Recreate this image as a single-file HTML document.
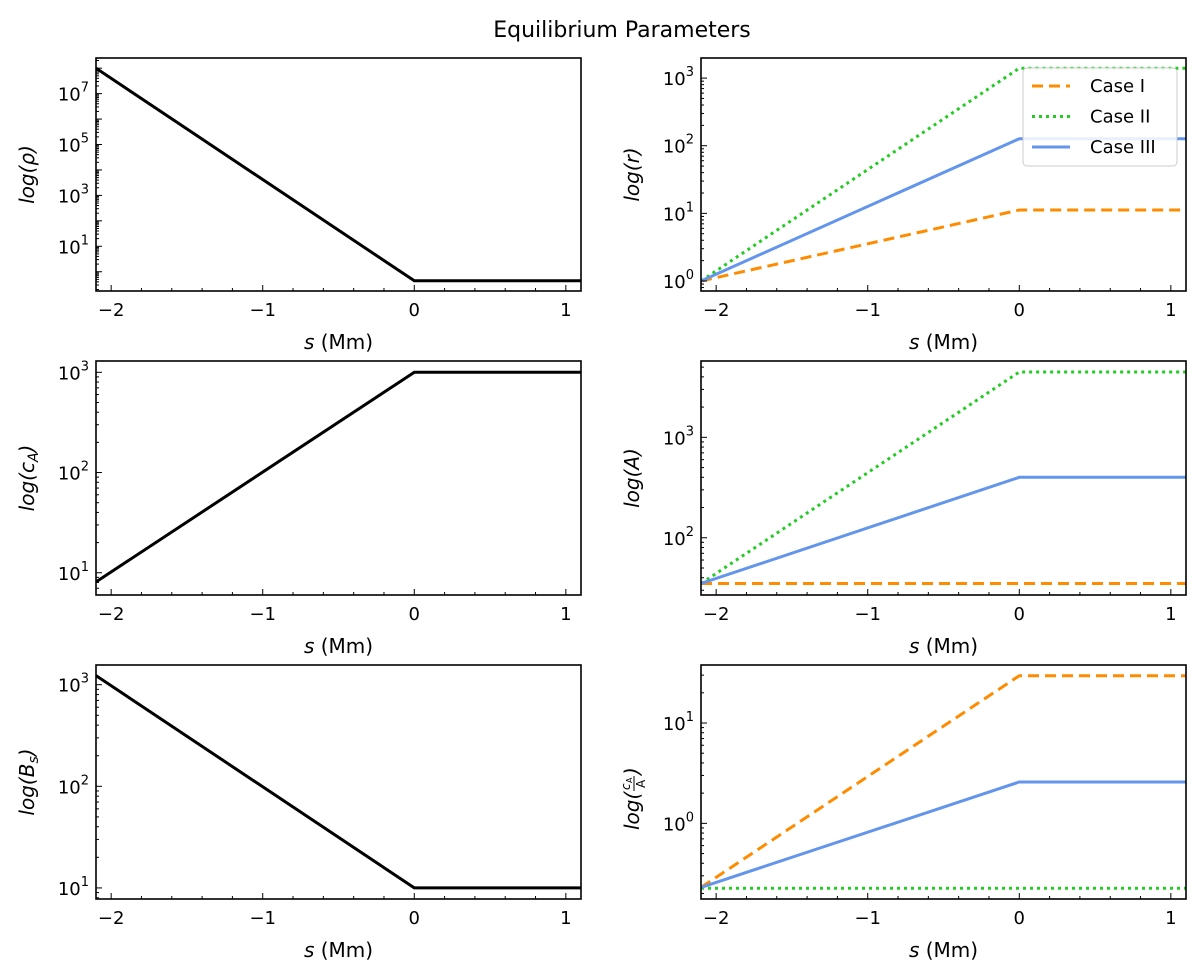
<!DOCTYPE html>
<html><head><meta charset="utf-8">
<style>
html,body{margin:0;padding:0;background:#fff;}
svg{display:block;font-family:"DejaVu Sans","Liberation Sans",sans-serif;}
</style></head>
<body>
<svg id="fig" width="1200" height="971" viewBox="0 0 1200 971">
<text x="622" y="37" font-size="22" text-anchor="middle" fill="#000">Equilibrium Parameters</text>
</svg>
<script>
// ---- data ----
const sKnots = [-2.1, 0, 1.1];
const xTicks = [-2, -1, 0, 1];
const xTickLabels = ["\u22122", "\u22121", "0", "1"];
const rhoValues = [1e8, 0.44, 0.44];
const cAValues = [8.1, 1000, 1000];
const BsValues = [1230, 10, 10];
const rCase1 = [1, 11.2, 11.2];
const rCase2 = [1, 1400, 1400];
const rCase3 = [1, 127, 127];
const ACase1 = [35, 35, 35];
const ACase2 = [35, 4470, 4470];
const ACase3 = [35, 400, 400];
const ratioCase1 = [0.23, 29.6, 29.6];
const ratioCase2 = [0.225, 0.225, 0.225];
const ratioCase3 = [0.23, 2.58, 2.58];
const rhoTicks = [1, 3, 5, 7];
const cATicks = [1, 2, 3];
const BsTicks = [1, 2, 3];
const rTicks = [0, 1, 2, 3];
const ATicks = [2, 3];
const ratioTicks = [0, 1];
const legendLabels = ["Case I", "Case II", "Case III"];

const NS = "http://www.w3.org/2000/svg";
const svg = document.getElementById('fig');
function mk(tag, attrs, parent){const e=document.createElementNS(NS,tag);for(const k in attrs)e.setAttribute(k,attrs[k]);(parent||svg).appendChild(e);return e;}

const styles = {
  black:{stroke:"#000",w:3,dash:null},
  c1:{stroke:"#ff8c00",w:3,dash:"11,6"},
  c2:{stroke:"#22cc22",w:3,dash:"3,4"},
  c3:{stroke:"#6495ed",w:3,dash:null}
};

const panels = [
  {name:"rho",x0:96,x1:581,y0:58,y1:291,lmin:-0.757,lmax:8.40,ticks:rhoTicks,label:"log(\u03c1)",series:[[rhoValues,"black"]],lx:34},
  {name:"r",x0:701,x1:1186,y0:58,y1:291,lmin:-0.148,lmax:3.297,ticks:rTicks,label:"log(r)",series:[[rCase1,"c1"],[rCase2,"c2"],[rCase3,"c3"]],lx:639,legend:true},
  {name:"ca",x0:96,x1:581,y0:361,y1:595,lmin:0.778,lmax:3.113,ticks:cATicks,label:"cA",series:[[cAValues,"black"]],lx:34},
  {name:"area",x0:701,x1:1186,y0:361,y1:595,lmin:1.43,lmax:3.76,ticks:ATicks,label:"log(A)",series:[[ACase1,"c1"],[ACase2,"c2"],[ACase3,"c3"]],lx:639},
  {name:"bs",x0:96,x1:581,y0:665,y1:899,lmin:0.891,lmax:3.194,ticks:BsTicks,label:"Bs",series:[[BsValues,"black"]],lx:34},
  {name:"ratio",x0:701,x1:1186,y0:665,y1:899,lmin:-0.754,lmax:1.578,ticks:ratioTicks,label:"ratio",series:[[ratioCase1,"c1"],[ratioCase2,"c2"],[ratioCase3,"c3"]],lx:639}
];
const XMIN=-2.1, XMAX=1.1;

panels.forEach(p=>{
  const g = mk('g',{});
  
  
  const xs = v => p.x0 + (v-XMIN)/(XMAX-XMIN)*(p.x1-p.x0);
  const ys = v => p.y1 - (Math.log10(v)-p.lmin)/(p.lmax-p.lmin)*(p.y1-p.y0);
  const yl = l => p.y1 - (l-p.lmin)/(p.lmax-p.lmin)*(p.y1-p.y0);
  const clip = mk('clipPath',{id:'clip-'+p.name},g);
  mk('rect',{x:p.x0,y:p.y0,width:p.x1-p.x0,height:p.y1-p.y0},clip);
  p.series.forEach(([vals,st],i)=>{
    const s=styles[st];
    const pts = sKnots.map((k,j)=>xs(k).toFixed(1)+','+ys(vals[j]).toFixed(1)).join(' ');
    const pl = mk('polyline',{points:pts,fill:'none',stroke:s.stroke,'stroke-width':s.w,'clip-path':'url(#clip-'+p.name+')'},g);
    if(s.dash) pl.setAttribute('stroke-dasharray',s.dash);
    
    
  });
  xTicks.forEach((t,i)=>{
    const x=xs(t);
    mk('line',{x1:x,x2:x,y1:p.y1,y2:p.y1-6,stroke:'#000','stroke-width':1},g);
    const tl = mk('text',{x:x,y:p.y1+25,'font-size':18,'text-anchor':'middle'},g);
    tl.textContent = xTickLabels[i];
    
    
  });
  for(let m=-2.0;m<=1.1;m+=0.2){
    if(Math.abs(m-Math.round(m))<1e-6) continue;
    const x=xs(m); mk('line',{x1:x,x2:x,y1:p.y1,y2:p.y1-3,stroke:'#000','stroke-width':1},g);
  }
  for(let d=Math.floor(p.lmin)-1; d<=Math.ceil(p.lmax); d++){
    for(let k=1;k<10;k++){
      const l=d+Math.log10(k);
      if(l<p.lmin||l>p.lmax) continue;
      const y=yl(l);
      mk('line',{x1:p.x0,x2:p.x0+(k===1?6:3),y1:y,y2:y,stroke:'#000','stroke-width':1},g);
    }
  }
  p.ticks.forEach(t=>{
    const y=yl(t);
    const tl = mk('text',{x:p.x0-7,y:y+7,'font-size':18,'text-anchor':'end'},g);
    
    
    tl.appendChild(document.createTextNode('10'));
    const sup = mk('tspan',{dy:-9,'font-size':13},tl); sup.textContent=String(t);
  });
  mk('rect',{x:p.x0,y:p.y0,width:p.x1-p.x0,height:p.y1-p.y0,fill:'none',stroke:'#000','stroke-width':1.6},g);
  const xl = mk('text',{x:(p.x0+p.x1)/2,y:p.y1+58,'font-size':20,'text-anchor':'middle'},g);
  
  
  const it = mk('tspan',{'font-style':'italic'},xl); it.textContent='s';
  xl.appendChild(document.createTextNode(' (Mm)'));
  const cy=(p.y0+p.y1)/2;
  if(p.label==='ratio'){
    const rg = mk('g',{transform:'translate('+p.lx+' '+cy+') rotate(-90)'},g);
    
    
    const t1=mk('text',{x:-48,y:0,'font-size':20,'font-style':'italic'},rg); t1.textContent='log(';
    const n=mk('text',{x:-8,y:-9,'font-size':12,'font-style':'italic'},rg); n.textContent='c';
    const n2=mk('text',{x:-1,y:-7,'font-size':8},rg); n2.textContent='A';
    mk('line',{x1:-9,x2:6,y1:-5,y2:-5,stroke:'#000','stroke-width':1},rg);
    const d=mk('text',{x:-6,y:6,'font-size':12},rg); d.textContent='A';
    const t2=mk('text',{x:7,y:0,'font-size':20,'font-style':'italic'},rg); t2.textContent=')';
  } else {
    const ylab = mk('text',{x:p.lx,y:cy,'font-size':20,'text-anchor':'middle','font-style':'italic',transform:'rotate(-90 '+p.lx+' '+cy+')'},g);
    
    
    if(p.label==='cA'){
      ylab.appendChild(document.createTextNode('log(c'));
      const sb=mk('tspan',{'font-size':14,dy:4},ylab); sb.textContent='A';
      const cl=mk('tspan',{dy:-4},ylab); cl.textContent=')';
    } else if(p.label==='Bs'){
      ylab.appendChild(document.createTextNode('log(B'));
      const sb=mk('tspan',{'font-size':14,dy:4},ylab); sb.textContent='s';
      const cl=mk('tspan',{dy:-4},ylab); cl.textContent=')';
    } else ylab.textContent=p.label;
  }
  if(p.legend){
    const lg = mk('g',{},g);
    
    
    mk('rect',{x:1023,y:68,width:154,height:98,rx:4,fill:'#fff','fill-opacity':0.85,stroke:'#ccc','stroke-width':1},lg);
    const keys=['c1','c2','c3'];
    legendLabels.forEach((lab,i)=>{
      const y=86+i*30.5, s=styles[keys[i]];
      const ln=mk('line',{x1:1032,x2:1070,y1:y,y2:y,stroke:s.stroke,'stroke-width':3},lg);
      if(s.dash) ln.setAttribute('stroke-dasharray',s.dash);
      const t=mk('text',{x:1090,y:y+6,'font-size':18},lg); t.textContent=lab;
      
      
    });
  }
});
</script>
</body></html>
